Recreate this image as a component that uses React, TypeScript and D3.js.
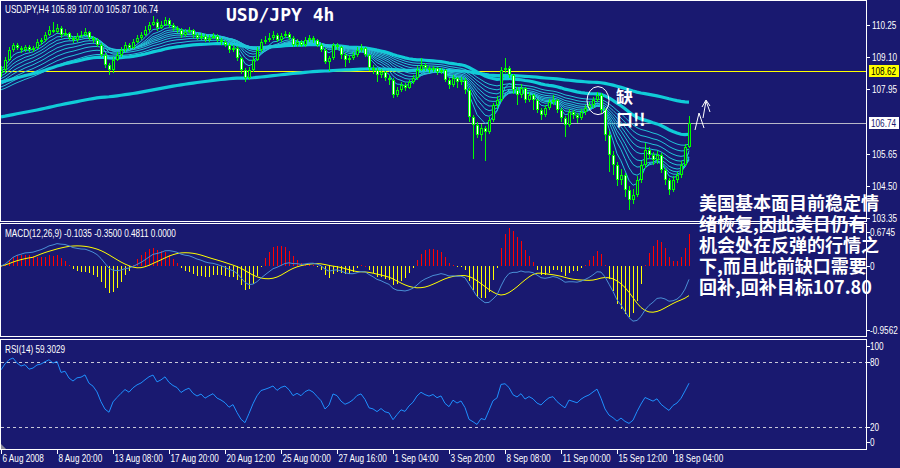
import React from 'react';
import * as d3 from 'd3';

// ---------- DATA ----------
const FIRST_OPEN = 108.55;
const closes = [
  108.64,109.00,109.36,109.54,109.43,109.36,109.46,109.36,109.43,109.64,
  109.71,109.89,110.07,110.00,110.14,109.89,109.96,109.79,109.71,109.86,
  109.89,110.00,109.79,109.71,109.54,109.18,108.82,108.64,109.00,109.18,
  109.36,109.54,109.43,109.64,109.79,109.89,110.07,110.25,110.36,110.14,
  110.25,110.43,110.25,110.14,110.07,109.89,110.00,110.07,109.89,109.79,
  109.86,109.71,109.79,109.86,109.71,109.64,109.54,109.36,109.43,109.07,
  108.64,108.36,108.64,109.00,109.36,109.64,109.71,109.79,109.89,109.71,
  109.86,109.93,109.79,109.54,109.64,109.54,109.71,109.79,109.71,109.54,
  109.36,108.93,109.07,109.54,109.46,109.18,109.00,109.07,109.18,109.36,
  109.43,109.18,108.71,108.64,108.46,108.57,108.36,108.29,107.75,107.93,
  108.11,108.00,108.21,108.36,108.64,108.82,108.71,108.64,108.71,108.57,
  108.64,108.29,108.11,108.36,108.21,108.29,107.93,106.96,106.68,106.32,
  106.57,106.43,106.86,107.39,107.57,108.64,108.71,108.46,107.93,107.75,
  108.00,107.57,107.75,107.57,107.21,107.04,107.29,107.50,107.57,107.21,
  106.93,106.68,107.14,107.04,106.93,107.14,107.29,107.39,107.57,107.75,
  107.21,106.32,105.61,105.25,104.71,104.89,104.36,104.00,104.18,104.71,
  105.25,105.79,105.61,105.43,105.61,105.07,104.71,104.36,104.71,104.89,
  105.25,105.89,106.74,
];
const highs = [
  108.80,109.10,109.45,109.62,109.60,109.50,109.55,109.52,109.50,109.75,
  109.80,110.00,110.20,110.36,110.30,110.20,110.10,110.00,109.85,109.95,
  110.05,110.14,110.05,109.85,109.78,109.60,109.25,108.90,109.10,109.30,
  109.45,109.65,109.60,109.75,109.90,110.00,110.20,110.36,110.57,110.45,
  110.40,110.54,110.50,110.32,110.22,110.15,110.12,110.18,110.12,109.95,
  109.95,109.92,109.88,109.95,109.92,109.78,109.70,109.60,109.52,109.50,
  109.12,108.70,108.75,109.10,109.45,109.75,109.85,109.95,110.03,109.95,
  109.97,110.05,110.00,109.85,109.75,109.72,109.82,109.90,109.86,109.76,
  109.60,109.42,109.15,109.62,109.60,109.50,109.25,109.18,109.28,109.45,
  109.57,109.48,109.22,108.82,108.72,108.68,108.62,108.45,108.35,108.05,
  108.22,108.18,108.30,108.45,108.80,109.07,108.90,108.78,108.80,108.76,
  108.72,108.68,108.35,108.45,108.40,108.38,108.35,108.00,107.05,106.80,
  106.70,106.65,106.95,107.45,107.70,108.75,109.07,108.80,108.50,108.05,
  108.15,108.05,107.85,107.80,107.62,107.30,107.40,107.60,107.75,107.62,
  107.30,107.00,107.25,107.22,107.10,107.25,107.40,107.50,107.68,107.86,
  107.82,107.30,106.45,105.75,105.35,105.10,104.95,104.50,104.40,104.85,
  105.40,106.05,105.90,105.70,105.75,105.68,105.15,104.80,104.85,105.00,
  105.38,106.00,107.00,
];
const lows = [
  108.40,108.55,108.95,109.30,109.35,109.25,109.30,109.28,109.30,109.40,
  109.55,109.65,109.85,109.95,109.95,109.80,109.85,109.70,109.62,109.65,
  109.80,109.85,109.72,109.60,109.45,109.10,108.70,108.46,108.55,108.95,
  109.10,109.30,109.35,109.38,109.60,109.72,109.85,110.00,110.20,110.05,
  110.10,110.20,110.15,110.05,109.98,109.80,109.82,109.95,109.80,109.70,
  109.72,109.64,109.66,109.74,109.64,109.55,109.45,109.25,109.30,108.95,
  108.50,108.21,108.30,108.58,108.95,109.30,109.58,109.65,109.72,109.64,
  109.66,109.80,109.70,109.45,109.48,109.45,109.48,109.65,109.62,109.46,
  109.28,108.85,108.60,109.00,109.35,109.05,108.75,108.90,109.00,109.10,
  109.30,109.10,108.60,108.50,108.20,108.35,108.25,108.10,107.64,107.68,
  107.85,107.90,107.95,108.15,108.30,108.60,108.62,108.55,108.58,108.48,
  108.50,108.20,107.95,108.05,108.00,108.10,107.80,106.80,105.45,106.20,
  106.10,105.40,106.35,106.80,107.30,107.50,108.55,108.35,107.80,107.40,
  107.65,107.45,107.50,107.20,107.10,106.85,106.95,107.20,107.40,107.10,
  106.80,106.25,106.60,106.90,106.75,106.85,107.05,107.20,107.30,107.50,
  107.10,106.10,105.00,104.90,104.50,104.55,104.10,103.64,103.85,104.10,
  104.60,105.15,105.45,105.25,105.30,104.95,104.55,104.18,104.30,104.60,
  104.80,105.20,105.87,
];

const timeLabels = [
  '6 Aug 2008', '8 Aug 20:00', '13 Aug 08:00', '17 Aug 20:00', '20 Aug 12:00',
  '25 Aug 00:00', '27 Aug 16:00', '1 Sep 04:00', '3 Sep 20:00', '8 Sep 08:00',
  '11 Sep 00:00', '15 Sep 12:00', '18 Sep 04:00',
];
const TIME_TICK_STEP = 14;

const priceTicks = [110.25, 109.10, 107.95, 105.65, 104.50, 103.35];
const yellowLevel = 108.62;
const lastPrice = 106.74;

// indicator parameters (periods and starting values from earlier history)
const thinRibbonPeriods = [5, 8, 11, 14, 18, 22, 27, 33, 40];
const thinRibbonSeeds = [108.7, 108.6, 108.5, 108.4, 108.3, 108.2, 108.1, 108.0, 107.9];
const thickRibbonPeriods = [55, 169];
const thickRibbonSeeds = [108.2, 106.95];
const rsiSeedGain = 0.08;
const rsiSeedLoss = 0.03;

const mainHeader = 'USDJPY,H4  105.89 107.00 105.87 106.74';
const chartTitle = 'USD/JPY 4h';
const macdHeader = 'MACD(12,26,9) -0.1035 -0.3500 0.4811 0.0000';
const macdAxisLabels = ['0.6745', '0', '-0.9562'];
const macdAxisValues = [0.6745, 0, -0.9562];
const rsiHeader = 'RSI(14) 59.3029';
const rsiAxisLabels = ['100', '80', '20', '0'];
const rsiDashedLevels = [80, 20];
const gapNote = ['缺', '口!!'];
const noteLines = [
  '美国基本面目前稳定情',
  '绪恢复,因此美日仍有',
  '机会处在反弹的行情之',
  '下,而且此前缺口需要',
  '回补,回补目标107.80',
];

// ---------- STYLE ----------
const BG = '#191970';
const GREEN = '#00ff00';
const CYAN_THIN = '#22c4d8';
const CYAN_THICK = '#10ccd8';
const FONT = "'Liberation Sans', Arial, sans-serif";
const SX = 0.78;
const W = 900;
const H = 468;
const PR = 866;
const MAIN = [0, 221];
const MACD = [223, 336];
const RSI = [339, 449];

function ema(vals: number[], period: number, seed: number) {
  const a = 2 / (period + 1);
  let e = seed;
  return vals.map((v) => (e = e + a * (v - e)));
}

function T({ x, y, fill = '#ffffff', size = 10.5, children }: any) {
  return (
    <text transform={`translate(${x},${y}) scale(${SX},1)`} fill={fill} fontSize={size} fontFamily={FONT}>
      {children}
    </text>
  );
}

export default function App() {
  const N = closes.length;
  const opens = closes.map((c, i) => (i === 0 ? FIRST_OPEN : closes[i - 1]));
  const x = d3.scaleLinear().domain([0, N - 1]).range([1, 1 + 4 * (N - 1)]);
  const yP = d3.scaleLinear().domain([104.5, 110.25]).range([186, 25]);
  const yM = d3.scaleLinear().domain([-1, 0]).range([331, 266]);
  const yR = d3.scaleLinear().domain([0, 100]).range([448.7, 340.3]);

  const thin = thinRibbonPeriods.map((p, k) => ema(closes, p, thinRibbonSeeds[k]));
  const thick = thickRibbonPeriods.map((p, k) => ema(closes, p, thickRibbonSeeds[k]));
  const pLine = d3.line<number>().x((_, i) => x(i)).y((d) => yP(d));

  const fast = ema(closes, 12, closes[0]);
  const slow = ema(closes, 26, closes[0]);
  const macd = fast.map((f, i) => f - slow[i]);
  const signal = macd.map((_, i) => d3.mean(macd.slice(Math.max(0, i - 8), i + 1)) as number);
  const hist = macd.map((m, i) => 2 * (m - signal[i]));
  const mLine = d3.line<number>().x((_, i) => x(i)).y((d) => yM(d));

  let ag = rsiSeedGain;
  let al = rsiSeedLoss;
  const rsi = closes.map((c, i) => {
    if (i > 0) {
      const ch = c - closes[i - 1];
      ag = (ag * 13 + Math.max(ch, 0)) / 14;
      al = (al * 13 + Math.max(-ch, 0)) / 14;
    }
    return 100 - 100 / (1 + ag / al);
  });
  const rLine = d3.line<number>().x((_, i) => x(i)).y((d) => yR(d));

  const lastX = x(N - 1);
  const zeroY = Math.round(yM(0));

  return (
    <svg width={W} height={H} style={{ position: 'fixed', left: 0, top: 0, display: 'block' }}
      fontFamily={FONT}>
      <defs>
        <clipPath id="cMain"><rect x={1} y={MAIN[0] + 1} width={PR - 1} height={MAIN[1] - MAIN[0] - 1} /></clipPath>
        <clipPath id="cMacd"><rect x={1} y={MACD[0] + 1} width={PR - 1} height={MACD[1] - MACD[0] - 1} /></clipPath>
        <clipPath id="cRsi"><rect x={1} y={RSI[0] + 1} width={PR - 1} height={RSI[1] - RSI[0] - 1} /></clipPath>
      </defs>
      <rect x={0} y={0} width={W} height={H} fill={BG} />

      {/* ---------- main panel ---------- */}
      <g clipPath="url(#cMain)">
        <rect x={0} y={Math.round(yP(yellowLevel))} width={PR} height={1} fill="#ffff00" shapeRendering="crispEdges" />
        <rect x={0} y={Math.round(yP(lastPrice))} width={PR} height={1} fill="#b8b8c8" shapeRendering="crispEdges" />
        {thick.map((s, k) => (
          <path key={'tk' + k} d={pLine(s) || ''} fill="none" stroke={CYAN_THICK} strokeWidth={3.2} />
        ))}
        {thin.map((s, k) => (
          <path key={'tn' + k} d={pLine(s) || ''} fill="none" stroke={CYAN_THIN} strokeWidth={1} />
        ))}
        {closes.map((c, i) => {
          const o = opens[i];
          const xi = Math.round(x(i));
          const top = Math.round(yP(Math.max(o, c)));
          const bot = Math.round(yP(Math.min(o, c)));
          const hh = Math.max(1, bot - top);
          const bear = c < o;
          return (
            <g key={'c' + i} shapeRendering="crispEdges">
              <rect x={xi} y={Math.round(yP(highs[i]))} width={1}
                height={Math.max(1, Math.round(yP(lows[i])) - Math.round(yP(highs[i])))} fill={GREEN} />
              <rect x={xi - 1} y={top} width={3} height={hh} fill={GREEN} />
              {hh > 2 && (
                <rect x={xi} y={top + 1} width={1} height={hh - 2} fill={bear ? '#ffffff' : BG} />
              )}
            </g>
          );
        })}
      </g>
      <T x={5} y={13}>{mainHeader}</T>
      <text x={226} y={21} fill="#ffffff" fontSize={18} fontWeight="bold"
        fontFamily="'DejaVu Sans Mono', monospace">{chartTitle}</text>

      {/* gap annotation */}
      <ellipse cx={x(149) + 1} cy={yP(107.55)} rx={11} ry={14} fill="none" stroke="#ffffff" strokeWidth={1} />
      <text x={616} y={103} fill="#ffffff" fontSize={17} fontFamily="'Noto Sans CJK SC', sans-serif" fontWeight="bold">{gapNote[0]}</text>
      <text x={616} y={126} fill="#ffffff" fontSize={17} fontFamily="'Noto Sans CJK SC', sans-serif" fontWeight="bold">{gapNote[1]}</text>
      <path d={`M${lastX + 6},130 L${lastX + 10},113 L${lastX + 15},128`} fill="none" stroke="#ffffff" strokeWidth={1} />
      <path d={`M${lastX + 14},118 L${lastX + 17},101 L${lastX + 21},112 M${lastX + 13},107 L${lastX + 17},100 L${lastX + 21},106`}
        fill="none" stroke="#ffffff" strokeWidth={1} />

      {/* ---------- MACD panel ---------- */}
      <g clipPath="url(#cMacd)">
        {hist.map((h, i) => {
          const yy = Math.round(yM(h));
          return (
            <rect key={'h' + i} x={Math.round(x(i))} y={Math.min(yy, zeroY)} width={1}
              height={Math.max(1, Math.abs(yy - zeroY))} fill={h >= 0 ? '#ff0000' : '#ffff00'}
              shapeRendering="crispEdges" />
          );
        })}
        <path d={mLine(signal) || ''} fill="none" stroke="#ffff00" strokeWidth={1} />
        <path d={mLine(macd) || ''} fill="none" stroke="#4a8fd6" strokeWidth={1} />
      </g>
      <T x={5} y={237}>{macdHeader}</T>

      {/* ---------- RSI panel ---------- */}
      <g clipPath="url(#cRsi)">
        {rsiDashedLevels.map((lv) => (
          <line key={'lv' + lv} x1={1} x2={PR} y1={Math.round(yR(lv)) + 0.5} y2={Math.round(yR(lv)) + 0.5}
            stroke="#c8c8d8" strokeDasharray="3,3" strokeWidth={1} />
        ))}
        <path d={rLine(rsi) || ''} fill="none" stroke="#1e90ff" strokeWidth={1} />
      </g>
      <T x={5} y={353}>{rsiHeader}</T>

      {/* ---------- panel borders ---------- */}
      {[MAIN, MACD, RSI].map((p, k) => (
        <rect key={'b' + k} x={0.5} y={p[0] + 0.5} width={PR} height={p[1] - p[0]} fill="none"
          stroke="#ffffff" strokeWidth={1} shapeRendering="crispEdges" />
      ))}
      <path d={`M1,${RSI[1]} L1,${RSI[1] - 5} L6,${RSI[1]} Z`} fill="#8a8a9a" />

      {/* ---------- right axis ---------- */}
      {priceTicks.map((p) => (
        <g key={'pt' + p}>
          <line x1={PR} x2={PR + 4} y1={Math.round(yP(p)) + 0.5} y2={Math.round(yP(p)) + 0.5} stroke="#ffffff" />
          <T x={872} y={yP(p) + 4}>{p.toFixed(2)}</T>
        </g>
      ))}
      <rect x={869} y={Math.round(yP(yellowLevel)) - 6} width={30} height={12} fill="#ffff00" />
      <T x={871} y={yP(yellowLevel) + 4} fill="#000000">{yellowLevel.toFixed(2)}</T>
      <rect x={869} y={Math.round(yP(lastPrice)) - 6} width={30} height={12} fill="#ffffff" />
      <T x={871} y={yP(lastPrice) + 4} fill={BG}>{lastPrice.toFixed(2)}</T>

      {macdAxisLabels.map((t, k) => {
        const yy = k === 0 ? MACD[0] + 9 : k === 2 ? MACD[1] - 6 : yM(macdAxisValues[k]);
        return (
          <g key={'ml' + k}>
            <line x1={PR} x2={PR + 4} y1={Math.round(yy) + 0.5} y2={Math.round(yy) + 0.5} stroke="#ffffff" />
            <T x={870} y={yy + 4}>{t}</T>
          </g>
        );
      })}
      {rsiAxisLabels.map((t, k) => {
        const v = +t;
        const yy = v === 100 ? RSI[0] + 7 : v === 0 ? RSI[1] - 7 : yR(v);
        return (
          <g key={'rl' + k}>
            <line x1={PR} x2={PR + 4} y1={Math.round(yy) + 0.5} y2={Math.round(yy) + 0.5} stroke="#ffffff" />
            <T x={870} y={yy + 4}>{t}</T>
          </g>
        );
      })}

      {/* ---------- time axis ---------- */}
      {timeLabels.map((t, k) => {
        const xi = Math.round(x(k * TIME_TICK_STEP)) + 0.5;
        return (
          <g key={'tl' + k}>
            <line x1={xi} x2={xi} y1={RSI[1]} y2={RSI[1] + 5} stroke="#ffffff" />
            <T x={xi + 1} y={462}>{t}</T>
          </g>
        );
      })}

      {/* ---------- note ---------- */}
      {noteLines.map((t, k) => (
        <text key={'n' + k} x={699} y={210 + k * 21} fill="#ffffff" fontSize={18} fontWeight="bold"
          fontFamily="'Noto Sans CJK SC', sans-serif">{t}</text>
      ))}
    </svg>
  );
}
